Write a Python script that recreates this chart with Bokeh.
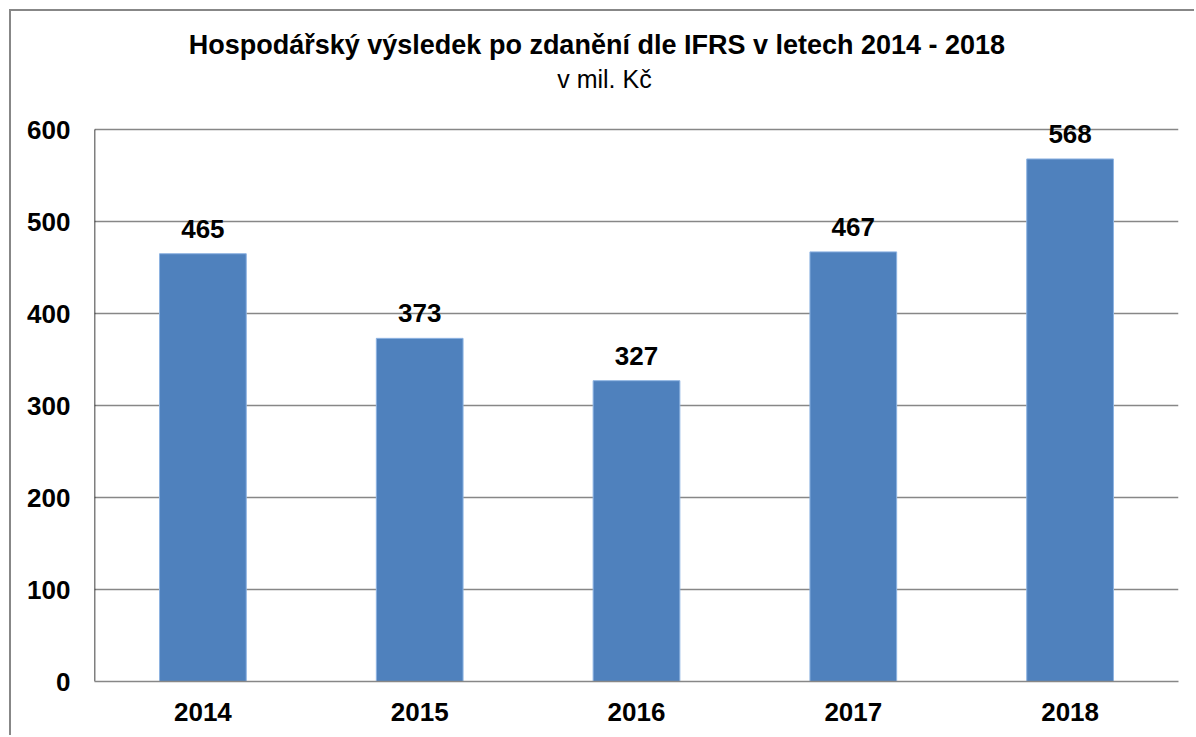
from bokeh.plotting import figure
from bokeh.models import ColumnDataSource, LabelSet, Label, FixedTicker, Range1d
from bokeh.core.properties import value
from bokeh.embed import file_html
from bokeh.resources import INLINE

years = [2014, 2015, 2016, 2017, 2018]
values = [465, 373, 327, 467, 568]
y_ticks = [0, 100, 200, 300, 400, 500, 600]
title_text = "Hospodářský výsledek po zdanění  dle IFRS v letech 2014 -  2018"
subtitle_text = "v mil. Kč"

FONT = "Liberation Sans"
BORDER = "#878787"

x_start, x_end = years[0] - 0.5, years[-1] + 0.5
y_top = 728.3  # room above the value axis for the titles

source = ColumnDataSource(dict(x=years, top=values, label=[str(v) for v in values]))

p = figure(width=1185, height=726, output_backend="svg", toolbar_location=None,
           x_range=Range1d(x_start, x_end), y_range=Range1d(0, y_top),
           min_border_left=83, min_border_right=18, min_border_top=0, min_border_bottom=56,
           margin=(9, 0, 0, 9),
           styles={"border-top": f"2px solid {BORDER}", "border-left": f"2px solid {BORDER}"})

p.vbar(x="x", top="top", width=0.4, source=source, fill_color="#4F81BD",
       line_color="#8DB3E2", line_width=1)

# value axis line, from 0 to the top tick only
p.segment(x0=[x_start], y0=[y_ticks[0]], x1=[x_start], y1=[y_ticks[-1]],
          line_color="black", line_width=1.5)

p.outline_line_color = None
p.xgrid.grid_line_color = None
p.ygrid.grid_line_color = "#878787"
p.ygrid.grid_line_width = 1.5
p.ygrid.ticker = FixedTicker(ticks=y_ticks)

p.yaxis.ticker = FixedTicker(ticks=y_ticks)
p.yaxis.axis_line_color = None
p.yaxis.major_tick_line_color = None
p.yaxis.minor_tick_line_color = None
p.yaxis.major_tick_out = 0
p.yaxis.major_label_standoff = 24
p.yaxis.major_label_text_font = FONT
p.yaxis.major_label_text_font_style = "bold"
p.yaxis.major_label_text_font_size = "26px"
p.yaxis.major_label_text_color = "black"

p.xaxis.ticker = FixedTicker(ticks=years)
p.xaxis.axis_line_color = "#878787"
p.xaxis.axis_line_width = 1.5
p.xaxis.major_tick_line_color = None
p.xaxis.minor_tick_line_color = None
p.xaxis.major_tick_out = 0
p.xaxis.major_label_standoff = 21
p.xaxis.major_label_text_font = FONT
p.xaxis.major_label_text_font_style = "bold"
p.xaxis.major_label_text_font_size = "26px"
p.xaxis.major_label_text_color = "black"

labels = LabelSet(x="x", y="top", text="label", source=source, text_align="center",
                  text_baseline="middle", y_offset=25, text_font=value(FONT),
                  text_font_style="bold", text_font_size="26px", text_color="black")
p.add_layout(labels)

p.add_layout(Label(x=2015.852, y=692, text=title_text, text_align="center",
                   text_baseline="middle", text_font=FONT, text_font_style="bold",
                   text_font_size="27px", text_color="black"))
p.add_layout(Label(x=2015.852, y=655, text=subtitle_text, text_align="center",
                   text_baseline="middle", text_font=FONT,
                   text_font_size="25px", text_color="black"))

open("out.html", "w").write(file_html(p, INLINE))
